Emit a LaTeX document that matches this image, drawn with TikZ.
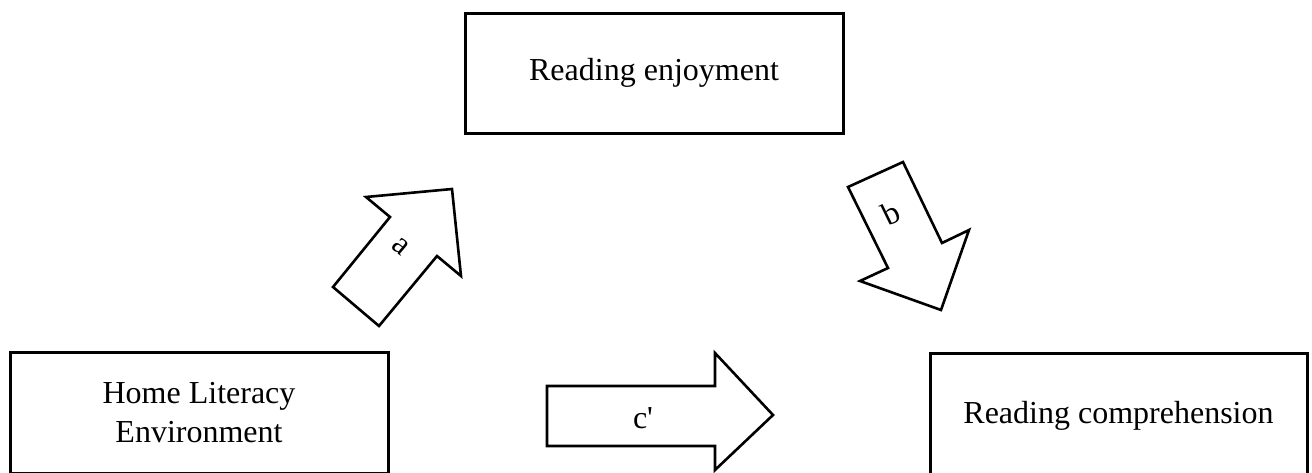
\documentclass[tikz,border=0pt]{standalone}
\usepackage{fontspec}
\setmainfont{Liberation Serif}
\begin{document}
\begin{tikzpicture}[x=1pt,y=-1pt,
  boxline/.style={draw=black,line width=3pt},
  bigarrow/.style={draw=black,line width=2.6pt,fill=white,line join=miter},
  lbl/.style={font=\fontsize{32}{38}\selectfont,inner sep=0pt},
  boxtext/.style={font=\fontsize{32}{39}\selectfont,align=center,inner sep=0pt}]
\useasboundingbox (0,0) rectangle (1312,472);
\fill[white] (0,0) rectangle (1312,472);
\clip (0,0) rectangle (1312,472);

% variable boxes
\draw[boxline] (465,13) rectangle (843,133);
\node[boxtext] (enjoy) at (654,73) {Reading enjoyment};

\draw[boxline] (10,352) rectangle (388,473);
\node[boxtext] (hle) at (199,413) {Home Literacy\\Environment};

\draw[boxline] (930,353) rectangle (1307,480);
\node[boxtext] (comp) at (1118.5,416) {Reading comprehension};

% path a: home literacy -> enjoyment
\draw[bigarrow] (333,287) -- (379,326) -- (437,256) -- (461,276)
  -- (452,189) -- (366,197) -- (390,217) -- cycle;
\node[lbl,rotate=-40] (a) at (401,246) {a};

% path b: enjoyment -> comprehension
\draw[bigarrow] (848,187) -- (903,162) -- (942,243) -- (969,230)
  -- (941,310) -- (860,281) -- (888,268) -- cycle;
\node[lbl,rotate=26] (b) at (891,213) {b};

% direct path c'
\draw[bigarrow] (547,386) -- (715,386) -- (715,353) -- (773,415)
  -- (715,470) -- (715,446) -- (547,446) -- cycle;
\node[lbl] (c) at (643,418) {c\textquotesingle};
\end{tikzpicture}
\end{document}
